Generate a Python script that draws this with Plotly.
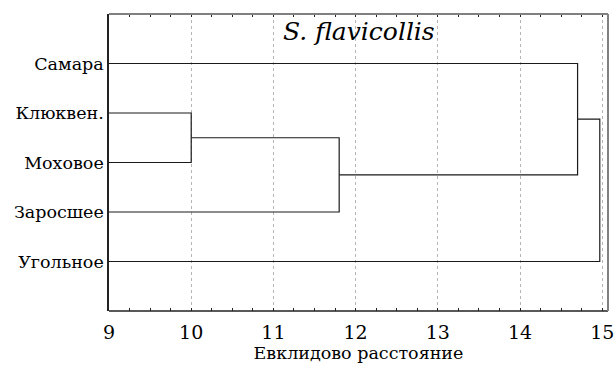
import plotly.graph_objects as go

# ---- data ----
leaf_labels = ["Самара", "Клюквен.", "Моховое", "Заросшее", "Угольное"]
leaf_pos = [1, 2, 3, 4, 5]
# merges: (child A, child B, distance); "L<i>" = leaf i, "c<k>" = cluster from merge k
merge_a = ["L1", "c0", "L0", "c2"]
merge_b = ["L2", "L3", "c1", "L4"]
merge_dist = [10.0, 11.8, 14.7, 14.97]
x_ticks = [9, 10, 11, 12, 13, 14, 15]
x_min = 9

title_text = "S. flavicollis"
x_title = "Евклидово расстояние"

# ---- build dendrogram segments ----
node_y = {}
node_x = {}
for i, p in enumerate(leaf_pos):
    node_y[f"L{i}"] = p
    node_x[f"L{i}"] = x_min

xs, ys = [], []
for k, (a, b, d) in enumerate(zip(merge_a, merge_b, merge_dist)):
    ya, yb = node_y[a], node_y[b]
    xs += [node_x[a], d, d, node_x[b], None]
    ys += [ya, ya, yb, yb, None]
    node_y[f"c{k}"] = (ya + yb) / 2
    node_x[f"c{k}"] = d

fig = go.Figure()
fig.add_trace(go.Scatter(x=xs, y=ys, mode="lines",
                         line=dict(color="#1a1a1a", width=1.2),
                         hoverinfo="skip", showlegend=False))

FONT = "DejaVu Serif"

fig.update_layout(
    width=615, height=365,
    margin=dict(l=109, r=7, t=14, b=54, pad=0),
    paper_bgcolor="white", plot_bgcolor="white",
    font=dict(family=FONT, color="black"),
    showlegend=False,
    xaxis=dict(
        range=[9, 15.07], automargin=False,
        tickvals=x_ticks, ticktext=[str(t) for t in x_ticks],
        ticks="inside", ticklen=3, tickwidth=1, tickcolor="#222",
        minor=dict(dtick=0.25, tick0=9, ticks="inside", ticklen=3, tickcolor="#222", showgrid=False),
        mirror="ticks", showline=False,
        showgrid=True, gridcolor="#b5b5b5", griddash="dot", gridwidth=1,
        zeroline=False,
        ticklabelstandoff=8,
        tickfont=dict(size=19, family=FONT, color="black"),
        title=dict(text=x_title, font=dict(size=17.5, family=FONT, color="black"), standoff=4),
    ),
    yaxis=dict(
        range=[6, 0], automargin=False,
        tickvals=leaf_pos, ticktext=leaf_labels,
        ticks="", showgrid=False, zeroline=False,
        showline=True, linecolor="#222", linewidth=1.5,
        ticklabelstandoff=0,
        tickfont=dict(size=17.5, family=FONT, color="black"),
    ),
    shapes=[
        dict(type="line", xref="x domain", yref="y domain", x0=0, x1=1, y0=0, y1=0,
             line=dict(color="#222", width=1.5)),
        dict(type="line", xref="x domain", yref="y domain", x0=0, x1=1, y0=1, y1=1,
             line=dict(color="#808080", width=2)),
        dict(type="line", xref="x domain", yref="y domain", x0=1, x1=1, y0=0, y1=1,
             line=dict(color="#808080", width=2)),
    ],
    annotations=[
        dict(text=f"<i>{title_text}</i>", xref="x domain", yref="y domain",
             x=0.5, y=1, xanchor="center", yanchor="top", yshift=-1, showarrow=False,
             font=dict(size=25, family=FONT, color="black")),
    ],
)

fig.write_html("out.html")
